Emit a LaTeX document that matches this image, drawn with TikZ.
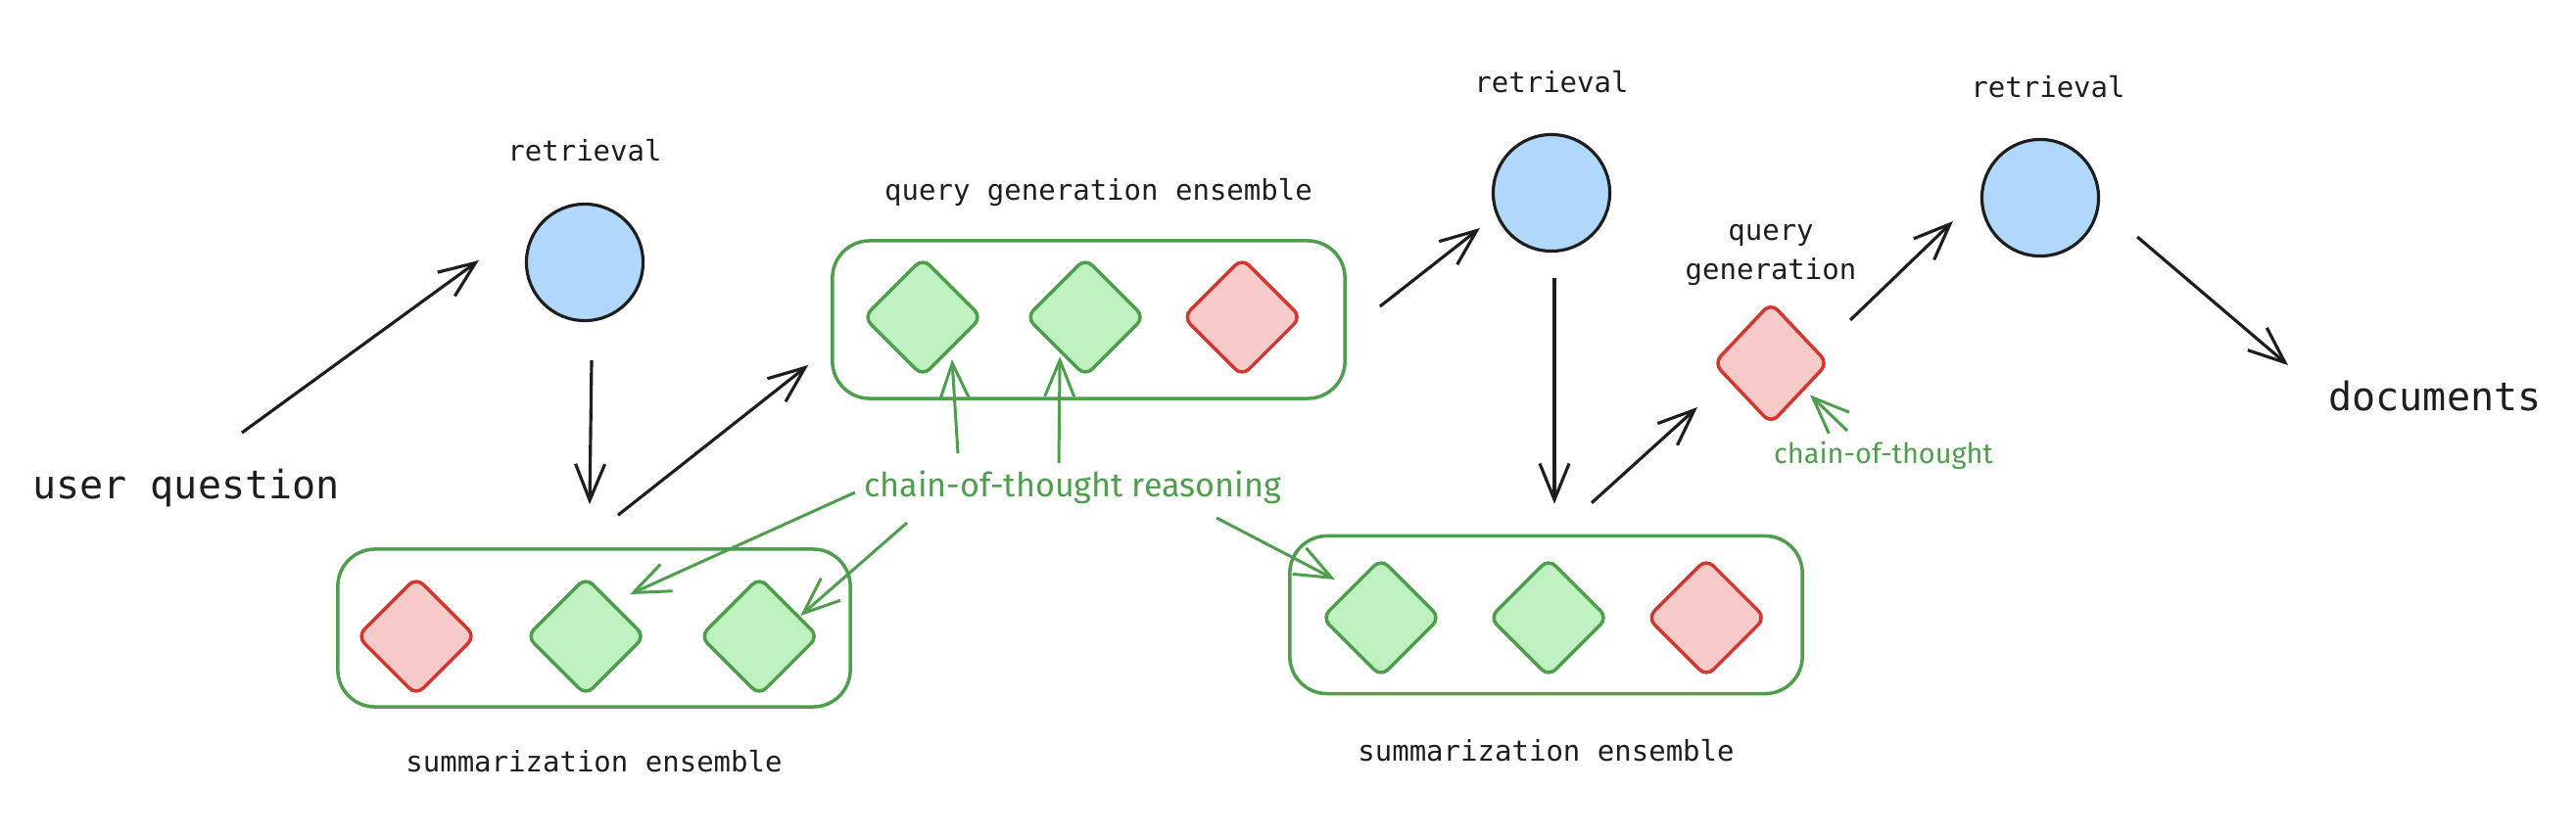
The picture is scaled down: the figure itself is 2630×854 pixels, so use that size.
\documentclass[tikz,border=0pt]{standalone}
\usepackage{fontspec}
\setmonofont{DejaVu Sans Mono}
\newfontfamily\handfont{Fira Sans}
\usepackage{tikz}
\usetikzlibrary{arrows.meta, positioning, shapes.geometric}

\definecolor{ink}{HTML}{1E1E1E}
\definecolor{retrblue}{HTML}{AFD8FC}
\definecolor{okfill}{HTML}{BFF0C0}
\definecolor{okline}{HTML}{4E9E4E}
\definecolor{badfill}{HTML}{F7CACA}
\definecolor{badline}{HTML}{D2382F}

\begin{document}
\begin{tikzpicture}[
            x = 0.01cm, y = -0.01cm, % one unit is one pixel, y grows downwards
            > = {Straight Barb[length=3.7mm, width=3mm]}, % arrow head style
            line width = 0.9pt, % line style
            color = ink
        ]

        \tikzstyle{retr}=[
            circle,
            draw = ink,
            fill = retrblue,
            minimum size = 1.19cm
        ]
        \tikzstyle{good}=[diamond, draw = okline, fill = okfill, rounded corners = 0.1cm,
            line width = 1pt, minimum width = 1.2cm, minimum height = 1.2cm,
            inner sep = 0pt, outer sep = 0pt]
        \tikzstyle{bad}=[good, draw = badline, fill = badfill]
        \tikzstyle{ensemble}=[draw = okline, line width = 1pt, rounded corners = 0.38cm,
            minimum width = 5.23cm, minimum height = 1.61cm]
        \tikzstyle{lbl}=[inner sep = 0pt, font = \ttfamily\fontsize{8.25}{11.4}\selectfont]
        \tikzstyle{biglbl}=[inner sep = 0pt, font = \ttfamily\fontsize{11.4}{14}\selectfont]
        \tikzstyle{cotlbl}=[inner sep = 0pt, okline, font = \handfont\fontsize{9.7}{12}\selectfont]
        \tikzstyle{cotsmall}=[cotlbl, font = \handfont\fontsize{8.2}{10}\selectfont]
        \tikzstyle{cot}=[->, okline, line width = 0.85pt]

        \useasboundingbox (0,0) rectangle (2630,854);

        % outer ends
        \node[biglbl, anchor = base] (uq) at (190,509) {user question};
        \node[biglbl, anchor = base] (docs) at (2486,419) {documents};

        % retrieval steps
        \node[retr] (r1) at (597,268) {};
        \node[retr] (r2) at (1584,197) {};
        \node[retr] (r3) at (2083,202) {};
        \node[lbl] (r1l) [above = 0.4cm of r1] {retrieval};
        \node[lbl] (r2l) [above = 0.39cm of r2] {retrieval};
        \node[lbl, xshift = 0.08cm] (r3l) [above = 0.39cm of r3] {retrieval};

        % query generation ensemble
        \node[ensemble] (qbox) at (1111.5,326.5) {};
        \node[good] (q1) at (942,324) {};
        \node[good] (q2) [right = 0.46cm of q1] {};
        \node[bad] (q3) [right = 0.4cm of q2] {};
        \node[lbl, xshift = 0.1cm] (qboxl) [above = 0.32cm of qbox] {query generation ensemble};

        % first summarization ensemble
        \node[ensemble] (s1box) at (606.5,641.5) {};
        \node[bad] (s1a) at (425,650) {};
        \node[good] (s1b) [right = 0.53cm of s1a] {};
        \node[good] (s1c) [right = 0.57cm of s1b] {};
        \node[lbl] (s1l) [below = 0.41cm of s1box] {summarization ensemble};

        % second summarization ensemble
        \node[ensemble] (s2box) at (1578.5,628) {};
        \node[good] (t1) at (1410,631) {};
        \node[good] (t2) [right = 0.51cm of t1] {};
        \node[bad] (t3) [right = 0.41cm of t2] {};
        \node[lbl] (s2l) [below = 0.43cm of s2box] {summarization ensemble};

        % single query generation
        \node[bad, minimum width = 1.16cm, minimum height = 1.23cm] (qg) at (1808,371) {};
        \node[lbl, align = center] (qgl) [above = 0.16cm of qg] {query\\generation};

        % chain-of-thought notes
        \node[cotlbl, anchor = base] (cot) at (1095,507) {chain-of-thought reasoning};
        \node[cotsmall, anchor = base] (cot2) at (1923,473) {chain-of-thought};

        % main flow
        \path[->] ([shift={(57,-67)}]uq.base) edge ([shift={(-47,-2)}]r1.west);
        \path[->] ([shift={(7,39)}]r1.south) edge ([shift={(-4.5,-44)}]s1box.north);
        \path[->] ([shift={(24.5,-33)}]s1box.north) edge ([shift={(-23,46.5)}]qbox.west);
        \path[->] ([shift={(34,-13.5)}]qbox.east) edge ([shift={(-12,36)}]r2.west);
        \path[->] ([shift={(3,26)}]r2.south) edge ([shift={(8.5,-31)}]s2box.north);
        \path[->] ([shift={(46.5,-32)}]s2box.north) edge ([shift={(-17,45)}]qg.west);
        \path[->] ([shift={(23,-44)}]qg.east) edge ([shift={(-28,24)}]r3.west);
        \path[->] ([shift={(38,40)}]r3.east) edge ([shift={(-150,-46)}]docs.base);

        % reasoning pointers
        \path[cot] ([shift={(-117,-44)}]cot.base) edge ([shift={(30,-17)}]q1.south);
        \path[cot] ([shift={(-14,-34)}]cot.base) edge ([shift={(-26,-20)}]q2.south);
        \path[cot] ([shift={(-222,-4)}]cot.base) edge ([shift={(-15,-43)}]s1b.east);
        \path[cot] ([shift={(-169,27)}]cot.base) edge ([shift={(-18,-21)}]s1c.east);
        \path[cot] ([shift={(147,22)}]cot.base) edge ([shift={(13,-39)}]t1.west);
        \path[cot] ([shift={(-37,-33)}]cot2.base) edge ([shift={(40,-29)}]qg.south);

  \end{tikzpicture}
\end{document}
